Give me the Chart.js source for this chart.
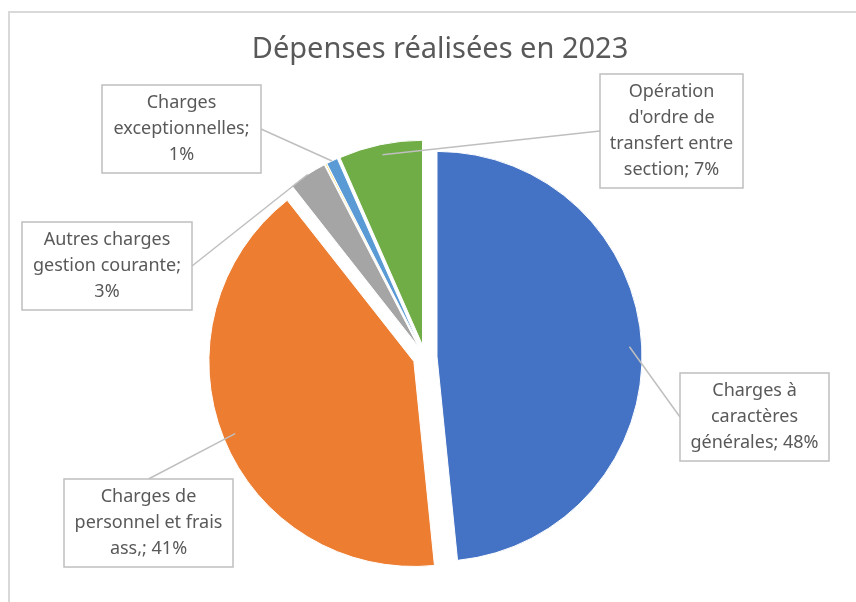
<!DOCTYPE html>
<html>
<head>
<meta charset="utf-8">
<title>Dépenses réalisées en 2023</title>
<style>
  html, body { margin:0; padding:0; background:#fff; }
  #wrap { width:856px; height:602px; }
</style>
</head>
<body>
<div id="wrap"><canvas id="myChart" width="856" height="602"></canvas></div>
<script src="https://cdn.jsdelivr.net/npm/chart.js@4.4.1/dist/chart.umd.min.js"></script>
<script>
var TITLE = 'Dépenses réalisées en 2023';

// categories in the order Excel draws them (clockwise from 12 o'clock)
var categories = [
    'Charges à caractères générales',
    'Charges de personnel et frais ass,',
    'Autres charges gestion courante',
    '',                                   // tiny yellow slice, no label shown
    'Charges exceptionnelles',
    "Opération d'ordre de transfert entre section"
];
var values = [48.4, 41.0, 3.0, 0.1, 0.9, 6.6];
var colors = ['#4472C4', '#ED7D31', '#A5A5A5', '#FFC000', '#5B9BD5', '#70AD47'];

// where the callout boxes sit (layout only)
var callouts = [
    {x: 680, y: 373, w: 149, side: 'left',  at: 0.94},
    {x: 64,  y: 479, w: 169, side: 'top',   at: 0.94},
    {x: 22,  y: 222, w: 170, side: 'right', at: 1.0},
    null,
    {x: 102, y: 85,  w: 159, side: 'right', at: 1.0},
    {x: 600, y: 74,  w: 143, side: 'left',  at: 0.95}
];

var EXPLODE = 12;   // px every slice is pulled out
var FONT = '"Noto Sans", "Open Sans", sans-serif';
var LINE_H = 26;

// chart.js offset also grows the radius of the arc, so pull slices out by hand
var baseArcDraw = Chart.ArcElement.prototype.draw;
Chart.ArcElement.prototype.draw = function(ctx) {
    var half = (this.startAngle + this.endAngle) / 2;
    ctx.save();
    ctx.translate(Math.cos(half) * EXPLODE, Math.sin(half) * EXPLODE);
    baseArcDraw.call(this, ctx);
    ctx.restore();
};

function wrapText(ctx, text, maxW) {
    var words = text.split(' ');
    var lines = [];
    var cur = '';
    for (var i = 0; i < words.length; i++) {
        var test = cur ? cur + ' ' + words[i] : words[i];
        if (cur && ctx.measureText(test).width > maxW) {
            lines.push(cur);
            cur = words[i];
        } else {
            cur = test;
        }
    }
    if (cur) lines.push(cur);
    return lines;
}

var decor = {
    id: 'decor',
    beforeDraw: function(chart) {
        var ctx = chart.ctx;
        ctx.save();
        ctx.strokeStyle = '#D9D9D9';
        ctx.lineWidth = 2;
        ctx.strokeRect(9, 12, 900, 700);
        ctx.fillStyle = '#595959';
        ctx.font = '29px ' + FONT;
        ctx.textAlign = 'center';
        ctx.textBaseline = 'middle';
        ctx.fillText(TITLE, 440, 50);
        ctx.restore();
    },
    afterDatasetsDraw: function(chart) {
        var ctx = chart.ctx;
        var meta = chart.getDatasetMeta(0);
        var total = values.reduce(function(a, b) { return a + b; }, 0);
        ctx.save();
        ctx.font = '18px ' + FONT;
        for (var i = 0; i < meta.data.length; i++) {
            var c = callouts[i];
            if (!c) continue;
            var arc = meta.data[i];
            var p = arc.getProps(['x', 'y', 'startAngle', 'endAngle', 'outerRadius'], true);
            var half = (p.startAngle + p.endAngle) / 2;
            var r = EXPLODE + c.at * p.outerRadius;
            var ax = p.x + Math.cos(half) * r;
            var ay = p.y + Math.sin(half) * r;

            var pct = Math.round(values[i] / total * 100);
            var lines = wrapText(ctx, categories[i] + '; ' + pct + '%', c.w - 12);
            var h = lines.length * LINE_H + 10;

            var bx, by;
            if (c.side === 'left') { bx = c.x; by = c.y + h / 2; }
            else if (c.side === 'right') { bx = c.x + c.w; by = c.y + h / 2; }
            else { bx = c.x + c.w / 2; by = c.y; }

            ctx.strokeStyle = '#BFBFBF';
            ctx.lineWidth = 1.5;
            ctx.beginPath();
            ctx.moveTo(bx, by);
            ctx.lineTo(ax, ay);
            ctx.stroke();

            ctx.fillStyle = '#FFFFFF';
            ctx.fillRect(c.x, c.y, c.w, h);
            ctx.strokeRect(c.x, c.y, c.w, h);

            ctx.fillStyle = '#595959';
            ctx.textAlign = 'center';
            ctx.textBaseline = 'middle';
            for (var j = 0; j < lines.length; j++) {
                ctx.fillText(lines[j], c.x + c.w / 2, c.y + 5 + LINE_H / 2 + j * LINE_H);
            }
        }
        ctx.restore();
    }
};

var config = {
    type: 'pie',
    data: {
        labels: categories,
        datasets: [{
            data: values,
            backgroundColor: colors,
            borderColor: '#FFFFFF',
            borderWidth: 1
        }]
    },
    options: {
        responsive: false,
        animation: false,
        events: [],
        radius: 205,
        layout: { padding: { top: 112, right: 6, bottom: 0, left: 0 } },
        plugins: {
            legend: { display: false },
            tooltip: { enabled: false },
            title: { display: false }
        }
    },
    plugins: [decor]
};

var ctx = document.getElementById('myChart').getContext('2d');
window.myPie = new Chart(ctx, config);
</script>
</body>
</html>
